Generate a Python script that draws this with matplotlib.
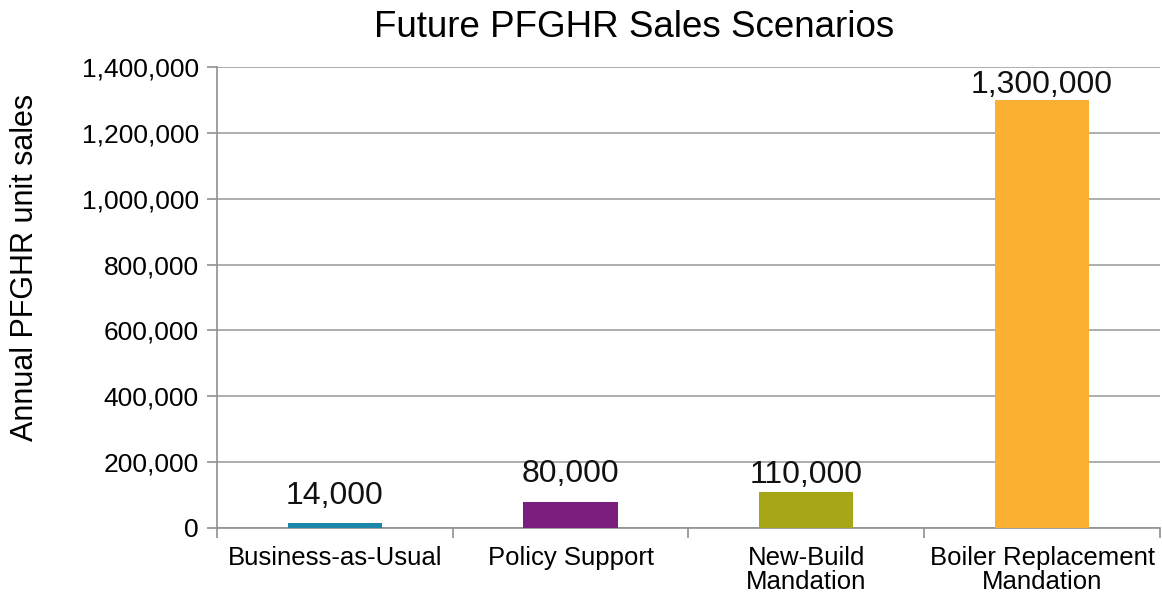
import matplotlib
matplotlib.use("Agg")
import matplotlib.pyplot as plt
from matplotlib.ticker import FuncFormatter, FixedLocator

categories = ["Business-as-Usual", "Policy Support", "New-Build\nMandation", "Boiler Replacement\nMandation"]
values = [14000, 80000, 110000, 1300000]
colors = ["#1B86A8", "#7B1F7C", "#A6A616", "#FBB034"]
yticks = [0, 200000, 400000, 600000, 800000, 1000000, 1200000, 1400000]
label_offsets_pt = [9, 9, 1, 0]

plt.rcParams['font.family'] = ['Liberation Sans', 'DejaVu Sans']

fig = plt.figure(figsize=(11.62, 6.03), dpi=100)
ax = fig.add_axes([0.1867, 0.1244, 0.8115, 0.7646])

x = list(range(len(categories)))
bars = ax.bar(x, values, width=0.4, color=colors, zorder=3)
for xi, v, off in zip(x, values, label_offsets_pt):
    ax.annotate(f"{v:,}", (xi, v), xytext=(0, off), textcoords="offset points",
                ha="center", va="bottom", fontsize=23, color="#111111", zorder=4)

ax.set_xlim(-0.5, len(categories) - 0.5)
ax.set_ylim(0, 1400000)
ax.set_yticks(yticks)
ax.yaxis.set_major_formatter(FuncFormatter(lambda v, p: f"{int(v):,}"))
ax.grid(axis="y", color="#A0A0A0", linewidth=1.2, zorder=0)

ax.set_xticks(x)
ax.set_xticklabels(categories, fontsize=18.5, linespacing=1.0)
ax.xaxis.set_minor_locator(FixedLocator([i - 0.5 for i in range(len(categories) + 1)]))
ax.tick_params(axis="x", which="major", length=0, pad=13)
ax.tick_params(axis="x", which="minor", length=7, color="#909090", width=1.2)
ax.tick_params(axis="y", length=7, color="#909090", width=1.2, labelsize=19, pad=6)

for s in ["top", "right"]:
    ax.spines[s].set_visible(False)
for s in ["left", "bottom"]:
    ax.spines[s].set_color("#909090")
    ax.spines[s].set_linewidth(1.2)

ax.set_ylabel("Annual PFGHR unit sales", fontsize=22)
ax.yaxis.set_label_coords(-0.188, 0.566)
fig.text(0.546, 0.955, "Future PFGHR Sales Scenarios", ha="center", va="center", fontsize=26.5)

fig.savefig("out.png", dpi=100)
